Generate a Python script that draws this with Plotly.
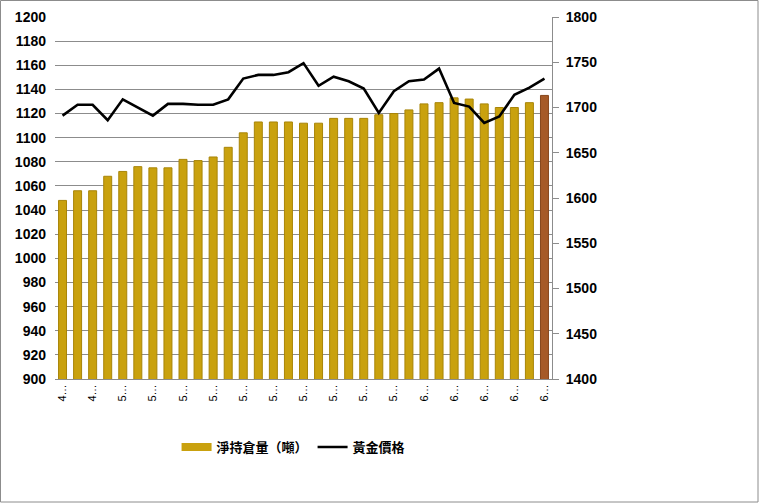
import plotly.graph_objects as go

WIDTH = 759
HEIGHT = 503

# one entry per weekly bar (33 bars)
weeks = [f"W{i:02d}" for i in range(1, 34)]

holdings = [
    1048, 1056, 1056, 1068, 1072, 1076, 1075, 1075, 1082, 1081, 1084,
    1092, 1104, 1113, 1113, 1113, 1112, 1112, 1116, 1116, 1116, 1119,
    1120, 1123, 1128, 1129, 1133, 1132, 1128, 1125, 1125, 1129, 1135,
]

gold_price = [
    1691, 1703, 1703, 1686, 1709, 1700, 1691, 1704, 1704, 1703, 1703,
    1709, 1732, 1736, 1736, 1739, 1749, 1724, 1734, 1729, 1721, 1694,
    1718, 1729, 1731, 1743, 1705, 1701, 1683, 1690, 1714, 1722, 1732,
]

tick_labels = [
    "4…", "4…", "5…", "5…", "5…", "5…", "5…", "5…", "5…",
    "5…", "5…", "5…", "6…", "6…", "6…", "6…", "6…",
]

GOLD = "#C9A10E"
BROWN = "#A65A28"
GRID = "#8C8C8C"

bar_colors = [GOLD] * (len(holdings) - 1) + [BROWN]
bar_edges = ["#A88508"] * (len(holdings) - 1) + ["#86461C"]

fig = go.Figure()

fig.add_trace(
    go.Bar(
        x=weeks,
        y=holdings,
        name="淨持倉量（噸）",
        marker=dict(color=bar_colors, line=dict(color=bar_edges, width=1)),
        width=0.53,
        showlegend=False,
    )
)

# wide flat swatch for the bar series in the legend
fig.add_trace(
    go.Scatter(
        x=[None],
        y=[None],
        name="淨持倉量（噸）",
        mode="lines",
        line=dict(color=GOLD, width=8),
    )
)

fig.add_trace(
    go.Scatter(
        x=weeks,
        y=gold_price,
        name="黃金價格",
        mode="lines",
        line=dict(color="black", width=2.6),
        yaxis="y2",
    )
)

num_font = dict(family="Liberation Sans", size=14, color="black", weight="bold")

fig.update_layout(
    width=WIDTH,
    height=HEIGHT,
    margin=dict(l=55, r=207, t=17, b=124),
    plot_bgcolor="white",
    paper_bgcolor="white",
    bargap=0.47,
    showlegend=True,
    legend=dict(
        orientation="h",
        x=0.48,
        xanchor="center",
        y=-0.188,
        yanchor="middle",
        font=dict(family="Noto Sans CJK TC", size=13, color="black", weight="bold"),
        itemwidth=30,
        traceorder="normal",
    ),
    xaxis=dict(
        type="category",
        tickvals=weeks[::2],
        ticktext=tick_labels,
        tickangle=-90,
        tickfont=dict(family="Liberation Sans", size=11, color="black"),
        showgrid=False,
        showline=True,
        linecolor=GRID,
        linewidth=1,
        ticks="",
        automargin=False,
    ),
    yaxis=dict(
        range=[900, 1200],
        dtick=20,
        tickfont=num_font,
        showgrid=True,
        gridcolor=GRID,
        gridwidth=1,
        zeroline=False,
        ticks="",
        ticklabelstandoff=8,
        automargin=False,
    ),
    yaxis2=dict(
        range=[1400, 1800],
        dtick=50,
        overlaying="y",
        side="right",
        tickfont=num_font,
        showgrid=False,
        zeroline=False,
        showline=True,
        linecolor=GRID,
        linewidth=1,
        ticks="outside",
        ticklen=6,
        tickcolor=GRID,
        ticklabelstandoff=4,
        automargin=False,
    ),
    shapes=[
        dict(
            type="rect",
            xref="paper",
            yref="paper",
            x0=(0.5 - 55) / 497,
            x1=(758 - 55) / 497,
            y0=(379 - 502) / 362,
            y1=(379 - 0.5) / 362,
            line=dict(color="#8C8C8C", width=1),
            layer="below",
        )
    ],
)

# drop the browser's default body margin so the chart sits at the page corner
fig.write_html(
    "out.html",
    config={"displayModeBar": False},
    post_script="document.body.style.margin='0';",
)
